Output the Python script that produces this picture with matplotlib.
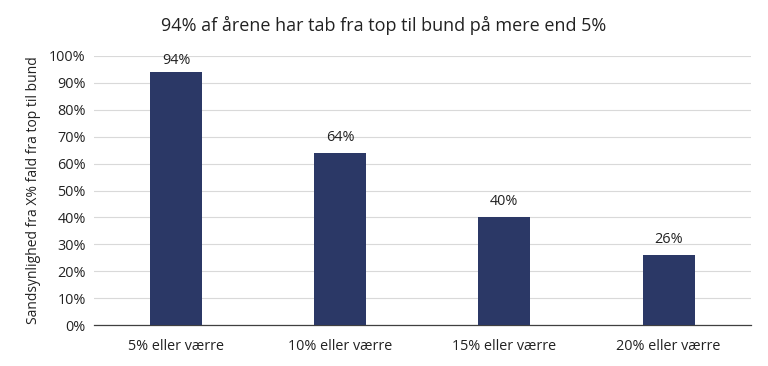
import matplotlib
matplotlib.use("Agg")
import matplotlib.pyplot as plt
from matplotlib.ticker import PercentFormatter, MultipleLocator

categories = ["5% eller værre", "10% eller værre", "15% eller værre", "20% eller værre"]
values = [94, 64, 40, 26]
title = "94% af årene har tab fra top til bund på mere end 5%"
ylabel = "Sandsynlighed fra X% fald fra top til bund"

plt.rcParams['font.family'] = ['Open Sans', 'DejaVu Sans']

fig = plt.figure(figsize=(7.68, 3.66), dpi=100)
ax = fig.add_axes([0.1224, 0.112, 0.855, 0.735])

x = list(range(len(categories)))
bars = ax.bar(x, values, width=0.317, color="#2B3866", zorder=3)
for xi, v in zip(x, values):
    ax.text(xi, min(v + 3.0, 95.6), f"{v}%", ha="center", va="bottom", fontsize=10.4, color="#222222")

ax.set_xlim(-0.5, len(categories) - 0.5)
ax.set_ylim(0, 100)
ax.yaxis.set_major_locator(MultipleLocator(10))
ax.yaxis.set_major_formatter(PercentFormatter(100, decimals=0))
ax.set_xticks(x)
ax.set_xticklabels(categories, fontsize=10.4, color="#222222")
ax.tick_params(axis="y", labelsize=10.4, colors="#222222", length=0, pad=6)
ax.tick_params(axis="x", length=0, pad=10)
ax.grid(axis="y", color="#D9D9D9", linewidth=0.8, zorder=0)
for s in ["top", "right", "left"]:
    ax.spines[s].set_visible(False)
ax.spines["bottom"].set_color("#404040")
ax.spines["bottom"].set_linewidth(0.9)
ax.set_ylabel(ylabel, fontsize=10, color="#222222", labelpad=6)
fig.text(0.5, 0.93, title, ha="center", va="center", fontsize=13, color="#222222")

fig.savefig("out.png", dpi=100)
